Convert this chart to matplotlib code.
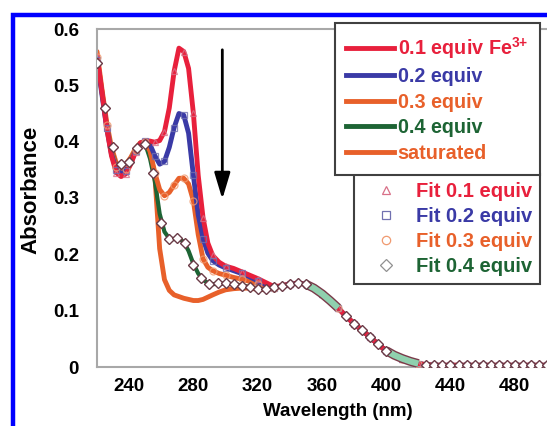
import matplotlib
matplotlib.use("Agg")
import matplotlib.pyplot as plt
from matplotlib.lines import Line2D
from matplotlib.patches import Rectangle

plt.rcParams['font.family'] = ['Liberation Sans', 'DejaVu Sans']
plt.rcParams['font.weight'] = 'bold'
plt.rcParams['mathtext.fontset'] = 'custom'
plt.rcParams['mathtext.rm'] = 'Liberation Sans:bold'
plt.rcParams['mathtext.bf'] = 'Liberation Sans:bold'

# Longueurs d'onde (nm) - partie ou les courbes different
wl_head = [220, 223, 226, 229, 232, 235, 238, 241, 244, 247, 250, 253, 256, 259, 262, 265,
           268, 271, 274, 277, 280, 283, 286, 289, 292, 296, 300, 305, 310, 315, 320, 325, 330]

abs_01 = [0.552, 0.490, 0.425, 0.375, 0.345, 0.338, 0.343, 0.360, 0.382, 0.397, 0.402, 0.401,
          0.399, 0.402, 0.418, 0.460, 0.525, 0.566, 0.560, 0.530, 0.450, 0.340, 0.265, 0.220,
          0.198, 0.186, 0.179, 0.175, 0.169, 0.163, 0.157, 0.150, 0.143]
abs_02 = [0.545, 0.485, 0.425, 0.378, 0.350, 0.343, 0.348, 0.363, 0.383, 0.397, 0.401, 0.395,
          0.375, 0.360, 0.365, 0.390, 0.425, 0.450, 0.447, 0.415, 0.340, 0.270, 0.228, 0.202,
          0.189, 0.181, 0.176, 0.171, 0.166, 0.160, 0.153, 0.146, 0.141]
abs_03 = [0.550, 0.490, 0.430, 0.382, 0.355, 0.348, 0.352, 0.366, 0.385, 0.398, 0.400, 0.383,
          0.345, 0.315, 0.304, 0.310, 0.323, 0.335, 0.335, 0.325, 0.295, 0.235, 0.192, 0.177,
          0.171, 0.166, 0.163, 0.159, 0.156, 0.152, 0.148, 0.144, 0.141]
abs_04 = [0.548, 0.490, 0.430, 0.385, 0.358, 0.352, 0.356, 0.368, 0.386, 0.397, 0.396, 0.370,
          0.330, 0.272, 0.240, 0.228, 0.227, 0.228, 0.222, 0.206, 0.183, 0.166, 0.155, 0.149,
          0.147, 0.148, 0.148, 0.147, 0.145, 0.142, 0.139, 0.138, 0.141]
abs_sat = [0.560, 0.495, 0.435, 0.390, 0.362, 0.356, 0.360, 0.372, 0.388, 0.398, 0.398, 0.380,
           0.340, 0.210, 0.155, 0.136, 0.128, 0.125, 0.122, 0.120, 0.118, 0.118, 0.120, 0.124,
           0.128, 0.133, 0.137, 0.139, 0.140, 0.140, 0.138, 0.137, 0.140]

# Partie commune (toutes les courbes se confondent)
wl_tail = [335, 340, 345, 350, 355, 360, 365, 370, 375, 380, 385, 390, 395, 400, 405, 410,
           415, 420, 425, 430, 435, 440, 445, 450, 455, 460, 465, 470, 475, 480, 485, 490,
           495, 500, 505, 510, 515, 520]
abs_tail = [0.144, 0.147, 0.149, 0.147, 0.140, 0.130, 0.118, 0.105, 0.090, 0.077, 0.065, 0.053,
            0.040, 0.029, 0.021, 0.015, 0.010, 0.006, 0.004, 0.003, 0.003, 0.003, 0.003, 0.003,
            0.003, 0.003, 0.003, 0.003, 0.003, 0.003, 0.003, 0.003, 0.003, 0.003, 0.003, 0.003,
            0.003, 0.003]

# Ajustement 0.4 equiv (losanges)
fit_wl = [220, 225, 230, 235, 240, 245, 250, 255, 260, 265, 270, 275, 280, 285, 290, 295,
          300, 305, 310, 315, 320, 325, 330] + wl_tail
fit_04 = [0.540, 0.460, 0.390, 0.360, 0.364, 0.388, 0.395, 0.345, 0.256, 0.227, 0.229, 0.220,
          0.181, 0.158, 0.147, 0.149, 0.149, 0.147, 0.144, 0.142, 0.138, 0.138, 0.142] + abs_tail

x_ticks = [240, 280, 320, 360, 400, 440, 480]
y_ticks = [0, 0.1, 0.2, 0.3, 0.4, 0.5, 0.6]
y_labels = ['0', '0.1', '0.2', '0.3', '0.4', '0.5', '0.6']

line_labels = ['0.1 equiv Fe$^{3{+}}$', '0.2 equiv', '0.3 equiv', '0.4 equiv', 'saturated']
fit_labels = ['Fit 0.1 equiv', 'Fit 0.2 equiv', 'Fit 0.3 equiv', 'Fit 0.4 equiv']

RED = '#e8203c'
BLUE = '#3a3aa6'
ORANGE = '#e8602a'
GREEN = '#1d6434'

W, H = 547, 426
fig = plt.figure(figsize=(W / 100, H / 100), dpi=100)
ax = fig.add_axes([97 / W, 59 / H, 482 / W, 338 / H])

series = [(abs_sat, ORANGE, 3.5), (abs_04, GREEN, 3.0), (abs_03, ORANGE, 3.5),
          (abs_02, BLUE, 3.5), (abs_01, RED, 3.5)]
for vals, col, lw in series:
    ax.plot(wl_head + wl_tail, vals + abs_tail, color=col, lw=lw,
            solid_joinstyle='round', solid_capstyle='round', zorder=2)

# Marqueurs des ajustements
fit_style = [(abs_01, '^', '#d87088'), (abs_02, 's', '#7070b0'), (abs_03, 'o', '#f09a70')]
for vals, mk, col in fit_style:
    ax.plot(wl_head + wl_tail, vals + abs_tail, ls='none', marker=mk, ms=5, mfc='none',
            mec=col, mew=0.9, markevery=2, alpha=0.8, zorder=3)

# bandes vertes (ajustement dense)
for lo, hi in [(350, 372), (400, 422)]:
    xs = [w for w in wl_tail if lo <= w <= hi]
    ys = [a for w, a in zip(wl_tail, abs_tail) if lo <= w <= hi]
    ax.plot(xs, ys, color='#7a3a4a', lw=6.5, solid_capstyle='butt', zorder=4)
    ax.plot(xs, ys, color='#8fd0ae', lw=4.5, solid_capstyle='butt', zorder=4)

keep = [not (352 <= w <= 372 or 402 <= w <= 422) for w in fit_wl]
ax.plot([w for w, k in zip(fit_wl, keep) if k], [a for a, k in zip(fit_04, keep) if k],
        ls='none', marker='D', ms=5.5, mfc='white', mec='#6a3a46', mew=1.0, zorder=5)

ax.annotate('', xy=(298, 0.293), xytext=(298, 0.568),
            arrowprops=dict(arrowstyle='-|>,head_length=0.8,head_width=0.24',
                            lw=2, color='black', mutation_scale=20))

ax.set_xlim(220, 520)
ax.set_ylim(0, 0.6)
ax.set_xticks(x_ticks)
ax.set_yticks(y_ticks)
ax.set_yticklabels(y_labels)
ax.tick_params(length=0, labelsize=13.5)
ax.tick_params(axis='y', pad=13)
ax.tick_params(axis='x', pad=8)
for s in ax.spines.values():
    s.set_color('#a8a8a8')
    s.set_linewidth(1.5)
ax.set_xlabel('Wavelength (nm)', fontsize=13.5, fontweight='bold', labelpad=6)
ax.set_ylabel('Absorbance', fontsize=16, fontweight='bold', labelpad=8)
ax.yaxis.label.set_y(0.524)

# Legendes
h1 = [Line2D([], [], color=c, lw=3.5) for c in [RED, BLUE, ORANGE, GREEN, ORANGE]]
leg1 = ax.legend(h1, line_labels, loc='upper right', bbox_to_anchor=(540 / W, 1 - 23 / H),
                 bbox_transform=fig.transFigure, borderaxespad=0, fancybox=False,
                 edgecolor='#404040', framealpha=1, prop={'weight': 'bold', 'size': 14.2},
                 handlelength=2.4, handletextpad=0.2, borderpad=0.6, labelspacing=0.33,
                 labelcolor=[RED, BLUE, ORANGE, GREEN, ORANGE])
leg1.get_frame().set_linewidth(1.5)
leg1.set_zorder(10)
ax.add_artist(leg1)

h2 = [Line2D([], [], ls='none', marker=m, ms=6, mfc='none', mec=c, mew=0.9)
      for m, c in [('^', '#d87088'), ('s', '#7070b0'), ('o', '#f09a70'), ('D', '#909090')]]
leg2 = ax.legend(h2, fit_labels, loc='upper right', bbox_to_anchor=(540 / W, 1 - 174 / H),
                 bbox_transform=fig.transFigure, borderaxespad=0, fancybox=False,
                 edgecolor='#404040', framealpha=1, prop={'weight': 'bold', 'size': 14.5},
                 handlelength=2.4, handletextpad=0.25, borderpad=0.4, labelspacing=0.3,
                 labelcolor=[RED, BLUE, ORANGE, GREEN])
leg2.get_frame().set_linewidth(1.5)
leg2.set_zorder(9)

# cadre bleu
fig.patches.append(Rectangle((13 / W, -0.05), 1.2, 1.05 - 15 / H, transform=fig.transFigure,
                             fill=False, edgecolor='#0000ff', lw=3.2))

fig.savefig('out.png', dpi=100)
